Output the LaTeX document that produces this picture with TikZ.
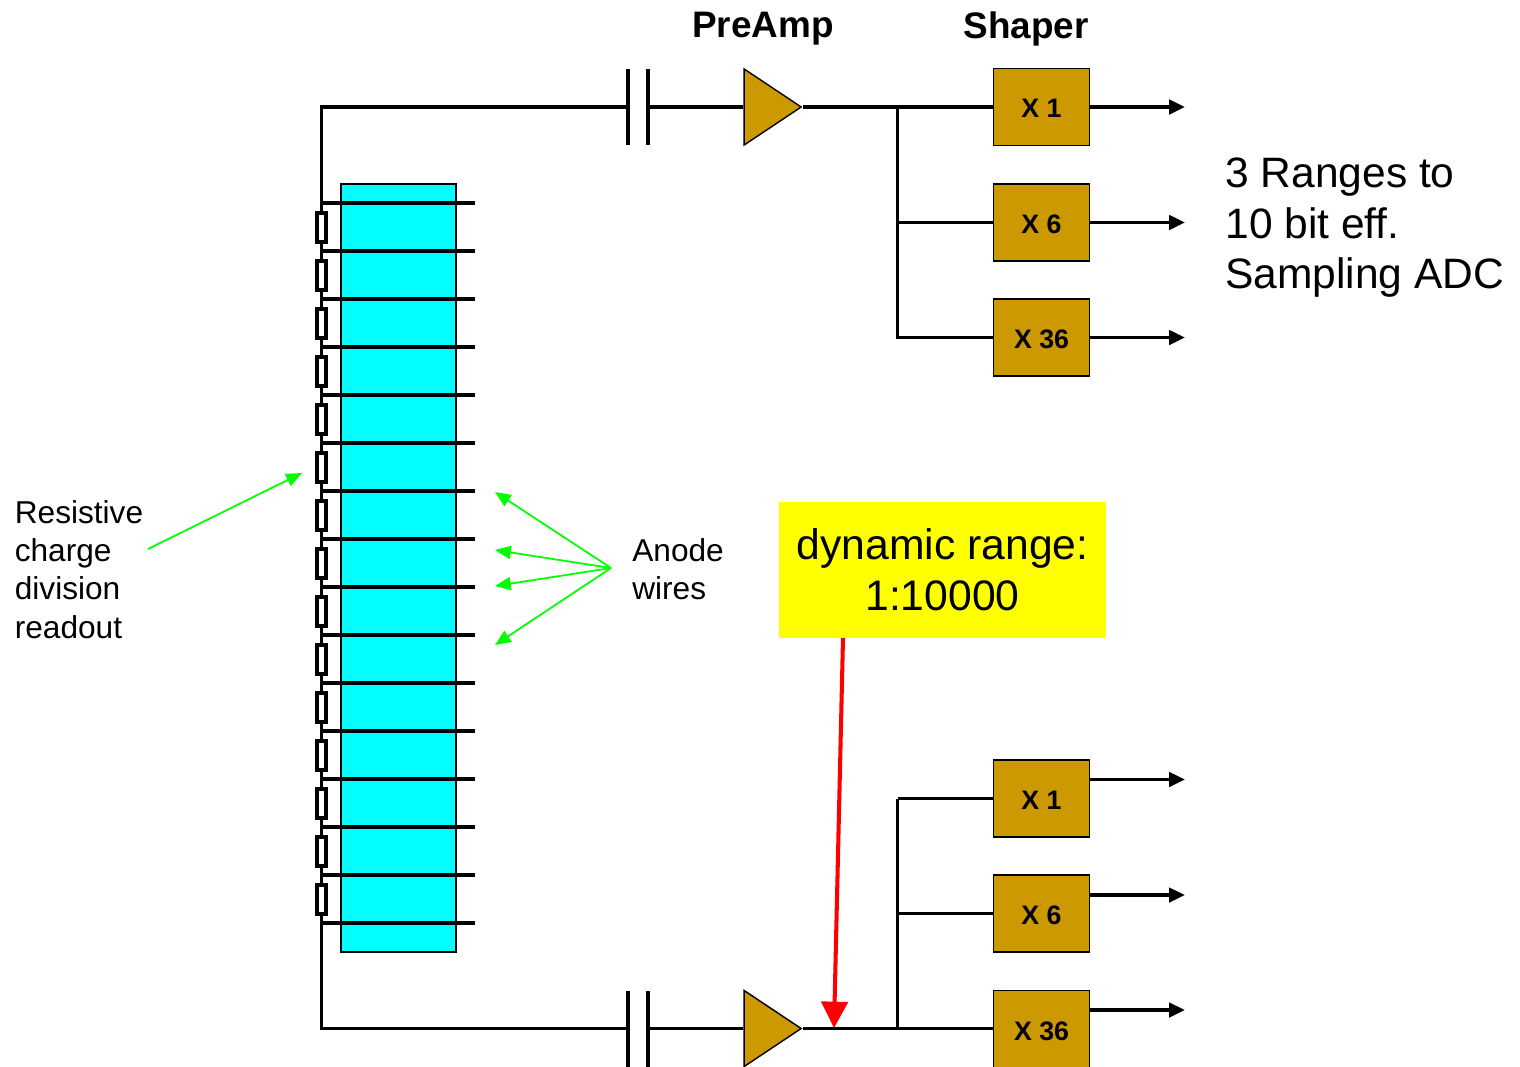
\documentclass[tikz,border=0pt]{standalone}
\usepackage{fontspec}
\setmainfont{Liberation Sans}
\usetikzlibrary{arrows.meta,shapes.geometric}
\definecolor{gold}{RGB}{204,153,0}
\definecolor{blockcyan}{RGB}{0,255,255}
\definecolor{noteyellow}{RGB}{255,255,0}
\definecolor{notegreen}{RGB}{0,255,0}
\definecolor{markred}{RGB}{255,0,0}
\tikzset{
	wire/.style={line width=2.2pt},
	outwire/.style={wire, -{Triangle[length=9pt,width=8pt]}},
	note/.style={-{Triangle[length=9pt,width=7.5pt]}, notegreen, line width=1pt},
	gainbox/.style={draw, fill=gold, line width=0.8pt, minimum width=1.93cm, minimum height=1.54cm, inner sep=0pt, text height=12.5pt, text depth=0pt, font=\fontsize{15.2}{18}\selectfont\bfseries},
	amp/.style={draw, fill=gold, line width=0.8pt, isosceles triangle, isosceles triangle stretches, shape border rotate=0, minimum width=1.52cm, minimum height=1.14cm, inner sep=0pt},
	res/.style={draw, fill=white, line width=1.9pt, minimum width=0.18cm, minimum height=0.58cm, inner sep=0pt},
	title/.style={font=\fontsize{21}{25}\selectfont\bfseries, inner sep=0pt},
	small/.style={font=\fontsize{18}{21.8}\selectfont, align=left, anchor=north west, inner sep=0pt},
}
\begin{document}
\begin{tikzpicture}[x=0.02cm, y=-0.02cm]
	\useasboundingbox (0,0) rectangle (1520,1066);
	% anode block and wires
	\node[draw, fill=blockcyan, line width=0.8pt, minimum width=2.3cm, minimum height=15.36cm, inner sep=0pt] (block) at (398.5,568) {};
	\foreach \i in {0,...,15} {
		\coordinate (wl\i) at (321,203+48*\i);
		\coordinate (wr\i) at (475,203+48*\i);
		\draw[wire] (wl\i) -- (wr\i);
	}
	% rail and input capacitors
	\coordinate (railtop) at (321.5,107);
	\coordinate (railbot) at (321.5,1028.5);
	\coordinate (capa) at (628,107);
	\coordinate (capb) at (649,107);
	\coordinate (capc) at (628,1028.5);
	\coordinate (capd) at (649,1028.5);
	\draw[wire] (capa) -- (railtop) -- (railbot) -- (capc);
	\foreach \i in {0,...,14} {
		\node[res] (r\i) at (321.5,227.5+48*\i) {};
	}
	\draw[wire] (628,69) -- (628,145);
	\draw[wire] (648,69) -- (648,145);
	\draw[wire] (628,991) -- (628,1067);
	\draw[wire] (648,991) -- (648,1067);
	% amplifiers
	\node[amp] (preamptop) at (764.5,107) {};
	\node[amp] (preampbot) at (764.5,1028.5) {};
	\draw[wire] (capb) -- (preamptop.west);
	\draw[wire] (capd) -- (preampbot.west);
	% shapers
	\node[gainbox] (xa) at (1041.5,107) {X 1};
	\node[gainbox] (xb) at (1041.5,222.5) {X 6};
	\node[gainbox] (xc) at (1041.5,337.5) {X 36};
	\node[gainbox] (xd) at (1041.5,798.5) {X 1};
	\node[gainbox] (xe) at (1041.5,913.5) {X 6};
	\node[gainbox] (xf) at (1041.5,1029) {X 36};
	\coordinate (busa) at (897.5,107);
	\coordinate (busb) at (897.5,222.5);
	\coordinate (busc) at (897.5,337.5);
	\coordinate (busd) at (897.5,798.5);
	\coordinate (buse) at (897.5,913.5);
	\coordinate (busf) at (897.5,1028.5);
	\draw[wire] (preamptop.apex) -- (busa) -- (xa.west);
	\draw[wire] (busa) -- (busc) -- (xc.west);
	\draw[wire] (busb) -- (xb.west);
	\draw[wire] (preampbot.apex) -- (busf) -- (xf.west |- busf);
	\draw[wire] (busd) -- (busf);
	\draw[wire] (busd) -- (xd.west);
	\draw[wire] (buse) -- (xe.west);
	% outputs
	\coordinate (enda) at (1185,107);
	\coordinate (endb) at (1185,222.5);
	\coordinate (endc) at (1185,337.5);
	\coordinate (endd) at (1185,779.5);
	\coordinate (ende) at (1185,895);
	\coordinate (endf) at (1185,1010);
	\draw[outwire] (xa.east) -- (enda);
	\draw[outwire] (xb.east) -- (endb);
	\draw[outwire] (xc.east) -- (endc);
	\draw[outwire] (xd.east |- endd) -- (endd);
	\draw[outwire] (xe.east |- ende) -- (ende);
	\draw[outwire] (xf.east |- endf) -- (endf);
	% labels
	\node[title] (preamplabel) at (763,29) {PreAmp};
	\node[title] (shaperlabel) at (1026,29) {Shaper};
	\node[anchor=north west, align=left, inner sep=0pt, font=\fontsize{24.2}{29}\selectfont] (adclabel) at (1225,157) {3 Ranges to\\10 bit eff.\\Sampling ADC};
	\node[small] (reslabel) at (14.5,500) {Resistive\\charge\\division\\readout};
	\node[small] (anodelabel) at (632,538) {Anode\\wires};
	\node[fill=noteyellow, minimum width=6.54cm, minimum height=2.72cm, inner sep=0pt, align=center, font=\fontsize{24.3}{29}\selectfont] (range) at (942.5,570) {dynamic range:\\1:10000};
	% pointers
	\coordinate (resfrom) at (148,549);
	\coordinate (resto) at (302,473);
	\coordinate (anodefrom) at (611,568);
	\coordinate (anodea) at (495,492);
	\coordinate (anodeb) at (495,550);
	\coordinate (anodec) at (495,586);
	\coordinate (anoded) at (495,645);
	\draw[note] (resfrom) -- (resto);
	\draw[note] (anodefrom) -- (anodea);
	\draw[note] (anodefrom) -- (anodeb);
	\draw[note] (anodefrom) -- (anodec);
	\draw[note] (anodefrom) -- (anoded);
	\coordinate (rangefrom) at (843,638);
	\coordinate (rangeto) at (834,1028);
	\draw[markred, line width=2.3pt, -{Triangle[length=15pt,width=15pt]}] (rangefrom) -- (rangeto);
\end{tikzpicture}
\end{document}
